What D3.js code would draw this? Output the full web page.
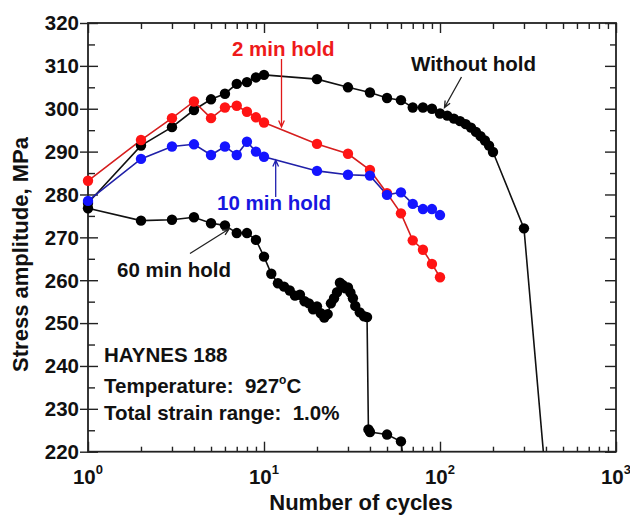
<!DOCTYPE html>
<html>
<head>
<meta charset="utf-8">
<script src="https://cdn.jsdelivr.net/npm/d3@7"></script>
<style>
  html, body { margin: 0; padding: 0; background: #fff; }
  svg { display: block; font-family: "Liberation Sans", Arial, Helvetica, sans-serif; }
  svg text { white-space: pre; }
</style>
</head>
<body>
<svg id="chart" width="630" height="517"></svg>
<script>
// Fatigue response of HAYNES 188 at 927 °C, 1.0 % total strain range
const withoutHoldCycles = [1, 2, 3, 4, 5, 6, 7, 8, 9, 10, 20, 30, 40, 50, 60, 70, 80, 90, 100,
  110, 120, 130, 140, 150, 160, 170, 180, 190, 200, 300, 400];
const withoutHoldStress = [278.0, 291.4, 295.7, 299.7, 302.2, 303.5, 305.8, 306.2, 307.3, 307.9,
  306.9, 305.0, 303.8, 302.5, 302.0, 300.3, 300.3, 300.0, 298.9,
  298.4, 297.7, 297.1, 296.4, 295.6, 294.6, 293.6, 292.6, 291.4, 289.9, 272.1, 213.0];

const twoMinCycles = [1, 2, 3, 4, 5, 6, 7, 8, 9, 10, 20, 30, 40, 50, 60, 70, 80, 90, 100];
const twoMinStress = [283.2, 292.7, 297.8, 301.7, 297.8, 300.3, 300.7, 299.3, 298.0, 296.8,
  291.8, 289.5, 285.7, 280.3, 275.6, 269.3, 267.1, 263.8, 260.7];

const tenMinCycles = [1, 2, 3, 4, 5, 6, 7, 8, 9, 10, 20, 30, 40, 50, 60, 70, 80, 90, 100];
const tenMinStress = [278.5, 288.3, 291.2, 291.7, 289.2, 291.2, 289.2, 292.3, 290.0, 288.8,
  285.5, 284.6, 284.4, 279.9, 280.5, 277.8, 276.6, 276.6, 275.2];

const sixtyMinCycles = [1, 2, 3, 4, 5, 6, 7, 8, 9, 10, 11, 12, 13, 14, 15, 16, 17, 18, 19, 20,
  21, 22, 23, 24, 25, 26, 27, 28, 29, 30, 31, 32, 33, 35, 37, 38.5, 39.2, 40, 50, 60, 62];
const sixtyMinStress = [276.8, 273.9, 274.1, 274.7, 273.3, 272.8, 271.0, 271.0, 269.4, 265.5,
  261.5, 259.3, 258.5, 257.6, 256.4, 256.6, 255.1, 254.6, 253.2, 253.9,
  252.3, 251.3, 252.1, 254.6, 255.8, 257.2, 259.4, 258.9, 258.1, 258.3,
  257.1, 255.8, 254.0, 252.5, 251.6, 251.4, 225.2, 224.6, 224.0, 222.4, 218.0];

const xMajorTicks = [1, 10, 100, 1000];
const xTickExponents = ["0", "1", "2", "3"];
const xMinorTicks = [2, 3, 4, 5, 6, 7, 8, 9, 20, 30, 40, 50, 60, 70, 80, 90,
  200, 300, 400, 500, 600, 700, 800, 900];
const yMajorTicks = [220, 230, 240, 250, 260, 270, 280, 290, 300, 310, 320];
const yMinorTicks = [225, 235, 245, 255, 265, 275, 285, 295, 305, 315];

const zip = (xs, ys) => xs.map((v, i) => [v, ys[i]]);

const series = [
  { name: "Without hold", data: zip(withoutHoldCycles, withoutHoldStress), line: "#111", dot: "#000" },
  { name: "60 min hold", data: zip(sixtyMinCycles, sixtyMinStress), line: "#111", dot: "#000" },
  { name: "2 min hold", data: zip(twoMinCycles, twoMinStress), line: "#d61e1e", dot: "#ff1414" },
  { name: "10 min hold", data: zip(tenMinCycles, tenMinStress), line: "#2020a8", dot: "#1414ff" }
];

const L = 88, R = 616, T = 23, B = 451.7;
const svg = d3.select("#chart");

const x = d3.scaleLog().domain([1, 1000]).range([L, R]);
const y = d3.scaleLinear().domain([220, 320]).range([B, T]);

svg.append("defs").append("clipPath").attr("id", "plot-clip")
  .append("rect").attr("x", 0).attr("y", T).attr("width", 630).attr("height", B - T);

// Axes: ticks only, the frame is drawn as one rectangle
function tickAxis(axis, transform, size) {
  const g = svg.append("g").attr("transform", transform)
    .call(axis.tickSizeInner(size).tickSizeOuter(0).tickFormat(() => ""));
  g.select(".domain").remove();
  g.selectAll(".tick line").attr("stroke", "#222").attr("stroke-width", 1.4);
  g.selectAll(".tick text").remove();
  return g;
}
tickAxis(d3.axisBottom(x).tickValues(xMajorTicks), `translate(0,${B})`, -10);
tickAxis(d3.axisBottom(x).tickValues(xMinorTicks), `translate(0,${B})`, -5);
tickAxis(d3.axisTop(x).tickValues(xMajorTicks), `translate(0,${T})`, -10);
tickAxis(d3.axisTop(x).tickValues(xMinorTicks), `translate(0,${T})`, -6);
tickAxis(d3.axisLeft(y).tickValues(yMajorTicks), `translate(${L},0)`, 8);
tickAxis(d3.axisLeft(y).tickValues(yMajorTicks), `translate(${L},0)`, -10);
tickAxis(d3.axisLeft(y).tickValues(yMinorTicks), `translate(${L},0)`, -7);
tickAxis(d3.axisRight(y).tickValues(yMajorTicks), `translate(${R},0)`, -11);
tickAxis(d3.axisRight(y).tickValues(yMinorTicks), `translate(${R},0)`, -6);

svg.append("rect").attr("x", L).attr("y", T).attr("width", R - L).attr("height", B - T)
  .attr("fill", "none").attr("stroke", "#222").attr("stroke-width", 1.8);

// Tick labels
svg.append("g").selectAll("text").data(yMajorTicks).join("text")
  .attr("x", 79).attr("y", d => y(d)).attr("dy", "0.36em")
  .attr("text-anchor", "end").attr("font-size", 20.5).attr("font-weight", "bold")
  .attr("fill", "#111").text(d => d);

const xl = svg.append("g").selectAll("text").data(xMajorTicks).join("text")
  .attr("x", d => x(d)).attr("y", 483.5)
  .attr("text-anchor", "middle").attr("font-size", 20.5).attr("font-weight", "bold")
  .attr("fill", "#111");
xl.append("tspan").text("10");
xl.append("tspan").attr("font-size", 13).attr("dy", -10).text((d, i) => xTickExponents[i]);

// Axis titles
svg.append("text").attr("x", 361).attr("y", 510).attr("text-anchor", "middle")
  .attr("font-size", 22).attr("font-weight", "bold").attr("fill", "#111")
  .text("Number of cycles");
svg.append("text").attr("transform", "translate(28,254.5) rotate(-90)").attr("text-anchor", "middle")
  .attr("font-size", 22).attr("font-weight", "bold").attr("fill", "#111")
  .text("Stress amplitude, MPa");

// Series lines and markers
const line = d3.line().x(d => x(d[0])).y(d => y(d[1]));
const plot = svg.append("g");
series.forEach(s => {
  plot.append("path").datum(s.data).attr("d", line)
    .attr("fill", "none").attr("stroke", s.line).attr("stroke-width", 1.6)
    .attr("clip-path", "url(#plot-clip)");
});
series.forEach(s => {
  plot.append("g").selectAll("circle").data(s.data.filter(d => d[1] >= 220)).join("circle")
    .attr("cx", d => x(d[0])).attr("cy", d => y(d[1])).attr("r", 5.2)
    .attr("fill", s.dot);
});

// Callouts
function arrow(x1, y1, x2, y2, color) {
  const a = Math.atan2(y2 - y1, x2 - x1), h = 7, w = 0.42;
  const p1 = [x2 - h * Math.cos(a - w), y2 - h * Math.sin(a - w)];
  const p2 = [x2 - h * Math.cos(a + w), y2 - h * Math.sin(a + w)];
  svg.append("path")
    .attr("d", `M${x1},${y1}L${x2},${y2}M${p1[0]},${p1[1]}L${x2},${y2}L${p2[0]},${p2[1]}`)
    .attr("fill", "none").attr("stroke", color).attr("stroke-width", 1.3);
}
function label(tx, ty, str, color) {
  return svg.append("text").attr("x", tx).attr("y", ty).attr("font-size", 20.5)
    .attr("font-weight", "bold").attr("fill", color).text(str);
}
label(232, 55.5, "2 min hold", "#ee1a1a");
arrow(281.5, 59, 281.5, 127, "#e01818");
label(411, 71, "Without hold", "#111");
arrow(461.5, 77, 444.5, 107.5, "#222");
label(217, 209.5, "10 min hold", "#1717e0");
arrow(275.7, 197, 275.7, 160, "#2020b0");
label(117, 277.3, "60 min hold", "#111");
arrow(190, 253.5, 229, 229, "#222");

label(104, 362, "HAYNES 188", "#111");
const temp = label(104, 393, "Temperature:  927", "#111");
temp.append("tspan").attr("font-size", 12).attr("dy", -9).text("o");
temp.append("tspan").attr("dy", 9).text("C");
label(104, 419.5, "Total strain range:  1.0%", "#111");
</script>
</body>
</html>
